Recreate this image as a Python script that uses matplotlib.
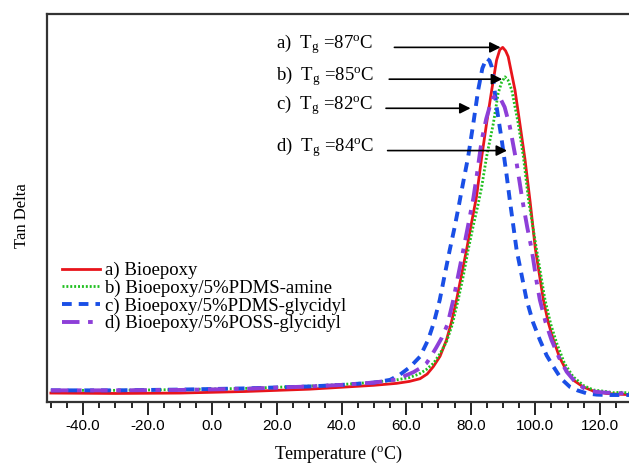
import matplotlib
matplotlib.use("Agg")
import matplotlib.pyplot as plt
from matplotlib.ticker import MultipleLocator, FormatStrFormatter

plt.rcParams["font.family"] = ["Liberation Serif", "DejaVu Serif"]
plt.rcParams["mathtext.default"] = "regular"

# a) Bioepoxy
temp_a = [-50, -30, -10, 10, 30, 40, 50, 57, 61, 64.3, 66.5, 68.4, 70.5, 72.5, 74, 75.6,
          77.2, 78.7, 80.2, 81.8, 83.4, 84.9, 86.5, 88.0, 89.0, 89.9, 90.8, 91.6, 93.7,
          95.2, 96.8, 98.4, 100.0, 102.5, 104.0, 105.6, 107.5, 109.7, 112, 114.8, 118,
          122, 126, 129]
tan_a = [0.023, 0.022, 0.023, 0.027, 0.033, 0.038, 0.043, 0.048, 0.053, 0.060, 0.072, 0.091,
         0.118, 0.16, 0.205, 0.263, 0.33, 0.392, 0.46, 0.53, 0.632, 0.718, 0.804, 0.881,
         0.908, 0.914, 0.905, 0.89, 0.804, 0.718, 0.625, 0.515, 0.395, 0.263, 0.205, 0.16,
         0.115, 0.08, 0.055, 0.039, 0.028, 0.022, 0.02, 0.019]

# b) Bioepoxy/5%PDMS-amine
temp_b = [-50, -30, -10, 10, 30, 40, 50, 57, 61, 64, 66.3, 68.5, 70.5, 72.5, 74.3, 76.1,
          77.7, 79.2, 80.8, 82.3, 83.4, 84.9, 87.0, 88.5, 89.6, 90.6, 91.5, 92.7, 94.7,
          96.3, 97.9, 100.4, 103.0, 104.8, 106.6, 109, 111.7, 115, 118, 121, 124, 127, 129]
tan_b = [0.030, 0.030, 0.032, 0.035, 0.041, 0.045, 0.051, 0.057, 0.063, 0.072, 0.084, 0.1,
         0.125, 0.155, 0.2, 0.263, 0.325, 0.392, 0.455, 0.51, 0.555, 0.632, 0.718, 0.796,
         0.825, 0.838, 0.83, 0.804, 0.718, 0.632, 0.52, 0.392, 0.263, 0.2, 0.152, 0.1,
         0.065, 0.042, 0.031, 0.028, 0.024, 0.025, 0.023]

# c) Bioepoxy/5%PDMS-glycidyl
temp_c = [-50, -30, -10, 10, 30, 40, 50, 55, 58, 61.2, 64.3, 66.8, 68.6, 70.4, 72, 73.5,
          75, 76.4, 77.2, 79.2, 80.8, 82.3, 83.6, 84.9, 85.8, 86.5, 88.0, 89.6, 91.1,
          92.1, 94.2, 97.3, 99.3, 101.4, 103.5, 105.6, 108, 110.7, 113, 116, 119, 122,
          126, 129]
tan_c = [0.030, 0.030, 0.032, 0.035, 0.040, 0.044, 0.050, 0.057, 0.07, 0.09, 0.117, 0.16,
         0.205, 0.263, 0.33, 0.392, 0.45, 0.51, 0.546, 0.632, 0.718, 0.804, 0.86, 0.886,
         0.88, 0.864, 0.761, 0.675, 0.585, 0.52, 0.392, 0.263, 0.205, 0.16, 0.12, 0.091,
         0.06, 0.039, 0.03, 0.022, 0.019, 0.018, 0.018, 0.018]

# d) Bioepoxy/5%POSS-glycidyl
temp_d = [-50, -30, -10, 10, 30, 40, 50, 57, 62.3, 64.5, 66.3, 67.5, 69.3, 71.0, 72.8,
          74.6, 76.2, 77.7, 79.3, 80.8, 81.8, 83.4, 84.8, 86.0, 87.0, 88.0, 89.0, 90.5,
          92.1, 94.2, 96.0, 97.5, 98.9, 100.4, 101.4, 103.2, 105.0, 107.3, 109.7, 112.5,
          115.9, 119, 122, 125, 128]
tan_d = [0.030, 0.030, 0.031, 0.034, 0.040, 0.044, 0.050, 0.058, 0.077, 0.088, 0.10,
         0.115, 0.14, 0.165, 0.2, 0.263, 0.33, 0.392, 0.46, 0.525, 0.58, 0.675, 0.73,
         0.765, 0.785, 0.791, 0.785, 0.76, 0.71, 0.616, 0.52, 0.45, 0.392, 0.31, 0.263,
         0.205, 0.16, 0.115, 0.078, 0.05, 0.031, 0.026, 0.024, 0.023, 0.022]

labels = ["a) Bioepoxy", "b) Bioepoxy/5%PDMS-amine",
          "c) Bioepoxy/5%PDMS-glycidyl", "d) Bioepoxy/5%POSS-glycidyl"]

# Tg annotations: text, arrow start x, arrow tip x, y
tg_text = ["a)  T$_g$ =87$^o$C", "b)  T$_g$ =85$^o$C", "c)  T$_g$ =82$^o$C", "d)  T$_g$ =84$^o$C"]
arrow_from = [55.5, 53.9, 52.9, 53.4]
arrow_to = [90.1, 90.6, 80.8, 92.1]
arrow_y = [0.914, 0.832, 0.757, 0.648]

fig = plt.figure(figsize=(6.29, 4.70), dpi=100)
ax = fig.add_axes([0.0742, 0.1447, 0.9258, 0.8255])

ax.plot(temp_a, tan_a, color="#e8141b", lw=2.0, ls="-", label=labels[0])
ax.plot(temp_b, tan_b, color="#1fbf1f", lw=2.0, ls=(0, (0.7, 0.7)), label=labels[1])
ax.plot(temp_c, tan_c, color="#1a4fe6", lw=2.8, ls=(0, (2.5, 1.8)), label=labels[2])
ax.plot(temp_d, tan_d, color="#8d3fd8", lw=2.8, ls=(0, (4.5, 2.2, 1.2, 2.2)), label=labels[3])

for t, x0, x1, y in zip(tg_text, arrow_from, arrow_to, arrow_y):
    ax.annotate("", xy=(x1, y), xytext=(x0, y),
                arrowprops=dict(arrowstyle="-|>", color="black", lw=1.2, mutation_scale=16))
    ax.text(19.8, y + 0.008, t, fontsize=13.5, va="center", ha="left")

ax.set_xlim(-51.3, 129.0)
ax.set_ylim(0, 1.0)
ax.xaxis.set_major_locator(MultipleLocator(20))
ax.xaxis.set_minor_locator(MultipleLocator(5))
ax.xaxis.set_major_formatter(FormatStrFormatter("%.1f"))
ax.set_yticks([])
ax.tick_params(axis="x", which="major", direction="out", length=9, width=1.2, pad=3,
               labelsize=11, labelfontfamily="Liberation Sans")
ax.tick_params(axis="x", which="minor", direction="out", length=4.5, width=1.2)
ax.spines["right"].set_visible(False)
for s in ["left", "top", "bottom"]:
    ax.spines[s].set_linewidth(1.6)
    ax.spines[s].set_color("#333333")

ax.set_xlabel("Temperature ($^o$C)", fontsize=13, labelpad=8)
ax.set_ylabel("Tan Delta", fontsize=12)
ax.yaxis.set_label_coords(-0.028, 0.48)

ax.legend(loc="upper left", bbox_to_anchor=(0.014, 0.38), frameon=False, fontsize=13.5,
          handlelength=2.0, labelspacing=0.02, handletextpad=0.3, borderaxespad=0)

fig.savefig("out.png", dpi=100)
